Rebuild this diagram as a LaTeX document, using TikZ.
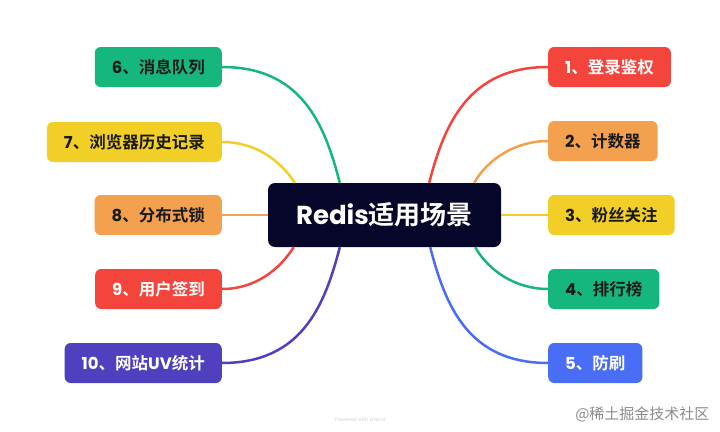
\documentclass[tikz,border=0pt]{standalone}
\usepackage{fontspec}
\setmainfont{Poppins}
\newfontfamily\cjk{Noto Sans CJK SC}[BoldFont={Noto Sans CJK SC Bold}]
\newcommand\zh[1]{{\cjk #1}}
\usetikzlibrary{calc}
\definecolor{cgreen}{HTML}{15B77D}
\definecolor{cyellow}{HTML}{F2CF27}
\definecolor{corange}{HTML}{F3A14E}
\definecolor{cred}{HTML}{F4453D}
\definecolor{cpurple}{HTML}{4E40BE}
\definecolor{cblue}{HTML}{4A6DF5}
\definecolor{cnavy}{HTML}{06062A}
\definecolor{cdark}{HTML}{1A1A1A}
\begin{document}
\begin{tikzpicture}[x=1pt,y=-1pt,
  leaf/.style={rounded corners=6pt, minimum height=40pt, inner xsep=17pt, inner ysep=0pt,
    font=\bfseries\fontsize{16.5}{18}\selectfont},
  leftleaf/.style={leaf, anchor=east},
  rightleaf/.style={leaf, anchor=west},
  link/.style={line width=2.5pt}]
\useasboundingbox (0,0) rectangle (720,431);
\fill[white] (0,0) rectangle (720,431);

% center
\node[fill=cnavy, rounded corners=7pt, minimum width=233pt, minimum height=64pt,
  text=white, font=\bfseries\fontsize{26}{30}\selectfont] (c) at (384.5,215) {Redis\zh{适用场景}};

% left leaves
\node[leftleaf, fill=cgreen, text=cdark] (n6) at (222,67) {6\zh{、消息队列}};
\node[leftleaf, fill=cyellow, text=cdark] (n7) at (222,142) {7\zh{、浏览器历史记录}};
\node[leftleaf, fill=corange, text=cdark] (n8) at (222,215) {8\zh{、分布式锁}};
\node[leftleaf, fill=cred, text=white] (n9) at (222,289) {9\zh{、用户签到}};
\node[leftleaf, fill=cpurple, text=white] (n10) at (222,363) {10\zh{、网站}UV\zh{统计}};

% right leaves
\node[rightleaf, fill=cred, text=white] (n1) at (548,67) {1\zh{、登录鉴权}};
\node[rightleaf, fill=corange, text=cdark] (n2) at (548,141) {2\zh{、计数器}};
\node[rightleaf, fill=cyellow, text=cdark] (n3) at (548,215) {3\zh{、粉丝关注}};
\node[rightleaf, fill=cgreen, text=cdark] (n4) at (548,289) {4\zh{、排行榜}};
\node[rightleaf, fill=cblue, text=white] (n5) at (548,363) {5\zh{、防刷}};

% connectors left
\draw[link, cgreen] (n6.east) .. controls +(80,0) and +(-15,-58) .. ([xshift=72pt]c.north west);
\draw[link, cyellow] (n7.east) .. controls +(33,0) and +(-15,-23) .. ([xshift=27pt]c.north west);
\draw[link, corange] (n8.east) -- (c.west);
\draw[link, cred] (n9.east) .. controls +(33,0) and +(-15,23) .. ([xshift=26pt]c.south west);
\draw[link, cpurple] (n10.east) .. controls +(80,0) and +(-15,58) .. ([xshift=72pt]c.south west);

% connectors right
\draw[link, cred] (n1.west) .. controls +(-80,0) and +(15,-58) .. ([xshift=-72pt]c.north east);
\draw[link, corange] (n2.west) .. controls +(-33,0) and +(13,-23) .. ([xshift=-27pt]c.north east);
\draw[link, cyellow] (n3.west) -- (c.east);
\draw[link, cgreen] (n4.west) .. controls +(-33,0) and +(13,23) .. ([xshift=-26pt]c.south east);
\draw[link, cblue] (n5.west) .. controls +(-80,0) and +(15,58) .. ([xshift=-71pt]c.south east);

% watermarks
\node[text=black!18, font=\fontsize{5}{6}\selectfont] (pw) at (360,420) {Powered with xmind};
\node[text=black!45, font=\cjk\fontsize{15}{17}\selectfont, anchor=east] (wm) at (713,414) {@稀土掘金技术社区};
\end{tikzpicture}
\end{document}
